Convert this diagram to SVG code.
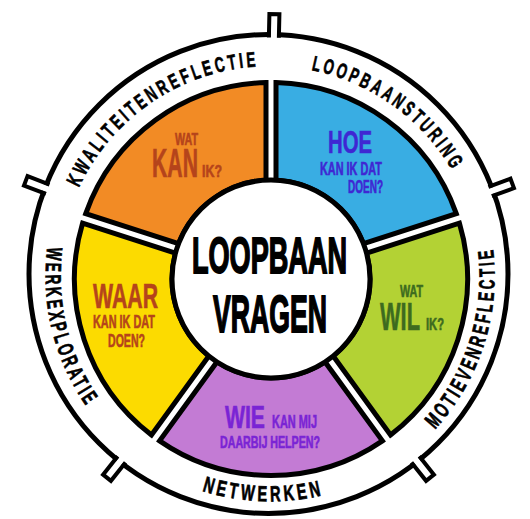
<svg xmlns="http://www.w3.org/2000/svg" width="530" height="519" viewBox="0 0 530 519">
<style>
.seg{stroke:#000;stroke-width:5;stroke-linejoin:miter}
.ringline{fill:none;stroke:#000;stroke-width:5}
.tabwall{fill:none;stroke:#000;stroke-width:4}
.rt{font-family:"Liberation Sans",Arial,sans-serif;font-weight:bold;font-size:21px;fill:#000;stroke:#000;stroke-width:0.7px;letter-spacing:5px}
.rb{font-size:22px}
.t{font-family:"Liberation Sans",Arial,sans-serif;font-weight:bold;stroke-width:0.6px}
</style>
<defs>
<g id="tab">
<rect x="265.3" y="30" width="6.4" height="9" fill="#fff"/>
<path class="tabwall" d="M263.5,37.5 V14 H273.5 V37.5"/>
</g>
<path id="pK" d="M60.2,254.9 A211,211 0 0 1 328.2,74.2"/>
<path id="pL" d="M217.9,72.5 A211,211 0 0 1 480.4,261.2"/>
<path id="pM" d="M356.1,484.9 A226,226 0 0 0 459.8,156.1"/>
<path id="pW" d="M88,144.7 A226,226 0 0 0 171.4,479.2"/>
<path id="pN" d="M93.2,416.1 A226,226 0 0 0 437.7,427"/>
</defs>
<rect width="530" height="519" fill="#fff"/>

<g id="ring">
<circle class="ringline" cx="268.5" cy="274" r="239.5"/>
<use href="#tab" transform="rotate(1.3 268.5 274)"/>
<use href="#tab" transform="rotate(69.6 268.5 274)"/>
<use href="#tab" transform="rotate(141.6 268.5 274)"/>
<use href="#tab" transform="rotate(218.4 268.5 274)"/>
<use href="#tab" transform="rotate(291 268.5 274)"/>
</g>

<g id="ring-labels">
<text class="rt"><textPath href="#pK" startOffset="50%" text-anchor="middle" textLength="228" lengthAdjust="spacingAndGlyphs">KWALITEITENREFLECTIE</textPath></text>
<text class="rt"><textPath href="#pL" startOffset="50%" text-anchor="middle" textLength="180" lengthAdjust="spacingAndGlyphs">LOOPBAANSTURING</textPath></text>
<text class="rt rb"><textPath href="#pM" startOffset="50%" text-anchor="middle" textLength="198" lengthAdjust="spacingAndGlyphs">MOTIEVENREFLECTIE</textPath></text>
<text class="rt rb"><textPath href="#pW" startOffset="50%" text-anchor="middle" textLength="170" lengthAdjust="spacingAndGlyphs">WERKEXPLORATIE</textPath></text>
<text class="rt rb"><textPath href="#pN" startOffset="50%" text-anchor="middle" textLength="124" lengthAdjust="spacingAndGlyphs">NETWERKEN</textPath></text>
</g>

<g id="seg-kan">
<path class="seg" fill="#f28b25" d="M85.72,213.55 A196.5,196.5 0 0 1 266,82.56 L266,180.13 A99,99 0 0 0 178.52,243.7 Z"/>
<g fill="#b5441b" stroke="#b5441b">
<text class="t" x="175" y="145" font-size="17" textLength="23" lengthAdjust="spacingAndGlyphs">WAT</text>
<text class="t" x="152" y="177" font-size="40" textLength="46" lengthAdjust="spacingAndGlyphs">KAN</text>
<text class="t" x="202" y="177" font-size="17" textLength="20" lengthAdjust="spacingAndGlyphs">IK?</text>
</g>
</g>

<g id="seg-hoe">
<path class="seg" fill="#39ade3" d="M276,82.56 A196.5,196.5 0 0 1 456.29,213.55 L363.49,243.7 A99,99 0 0 0 276,180.13 Z"/>
<g fill="#3f27d3" stroke="#3f27d3">
<text class="t" x="328" y="153" font-size="32" textLength="44" lengthAdjust="spacingAndGlyphs">HOE</text>
<text class="t" x="320" y="175" font-size="18" textLength="62" lengthAdjust="spacingAndGlyphs">KAN IK DAT</text>
<text class="t" x="348" y="193" font-size="18" textLength="35" lengthAdjust="spacingAndGlyphs">DOEN?</text>
</g>
</g>

<g id="seg-wil">
<path class="seg" fill="#b3d234" d="M459.38,223.06 A196.5,196.5 0 0 1 390.52,434.98 L333.16,356.05 A99,99 0 0 0 366.58,253.21 Z"/>
<g fill="#3d6b1f" stroke="#3d6b1f">
<text class="t" x="400" y="297" font-size="17" textLength="23" lengthAdjust="spacingAndGlyphs">WAT</text>
<text class="t" x="380" y="330" font-size="38" textLength="40" lengthAdjust="spacingAndGlyphs">WIL</text>
<text class="t" x="426" y="330" font-size="17" textLength="18" lengthAdjust="spacingAndGlyphs">IK?</text>
</g>
</g>

<g id="seg-wie">
<path class="seg" fill="#c37bd4" d="M382.42,440.86 A196.5,196.5 0 0 1 159.58,440.86 L216.93,361.93 A99,99 0 0 0 325.07,361.93 Z"/>
<g fill="#7a24d4" stroke="#7a24d4">
<text class="t" x="225" y="428" font-size="32" textLength="40" lengthAdjust="spacingAndGlyphs">WIE</text>
<text class="t" x="272" y="428" font-size="18" textLength="45" lengthAdjust="spacingAndGlyphs">KAN MIJ</text>
<text class="t" x="220" y="448" font-size="16" textLength="100" lengthAdjust="spacingAndGlyphs">DAARBIJ HELPEN?</text>
</g>
</g>

<g id="seg-waar">
<path class="seg" fill="#fcdb00" d="M151.49,434.98 A196.5,196.5 0 0 1 82.63,223.06 L175.43,253.21 A99,99 0 0 0 208.85,356.05 Z"/>
<g fill="#b5441b" stroke="#b5441b">
<text class="t" x="93" y="308" font-size="35" textLength="65" lengthAdjust="spacingAndGlyphs">WAAR</text>
<text class="t" x="93" y="328" font-size="18" textLength="62" lengthAdjust="spacingAndGlyphs">KAN IK DAT</text>
<text class="t" x="108" y="347" font-size="19" textLength="37" lengthAdjust="spacingAndGlyphs">DOEN?</text>
</g>
</g>

<g id="center">
<circle cx="271" cy="279" r="99" fill="#fff" stroke="#000" stroke-width="5"/>
<g fill="#000" stroke="#000">
<text class="t" x="192" y="273" font-size="50" textLength="155" lengthAdjust="spacingAndGlyphs" style="stroke-width:1.8px">LOOPBAAN</text>
<text class="t" x="213" y="332" font-size="51" textLength="114" lengthAdjust="spacingAndGlyphs" style="stroke-width:1.8px">VRAGEN</text>
</g>
</g>
</svg>
